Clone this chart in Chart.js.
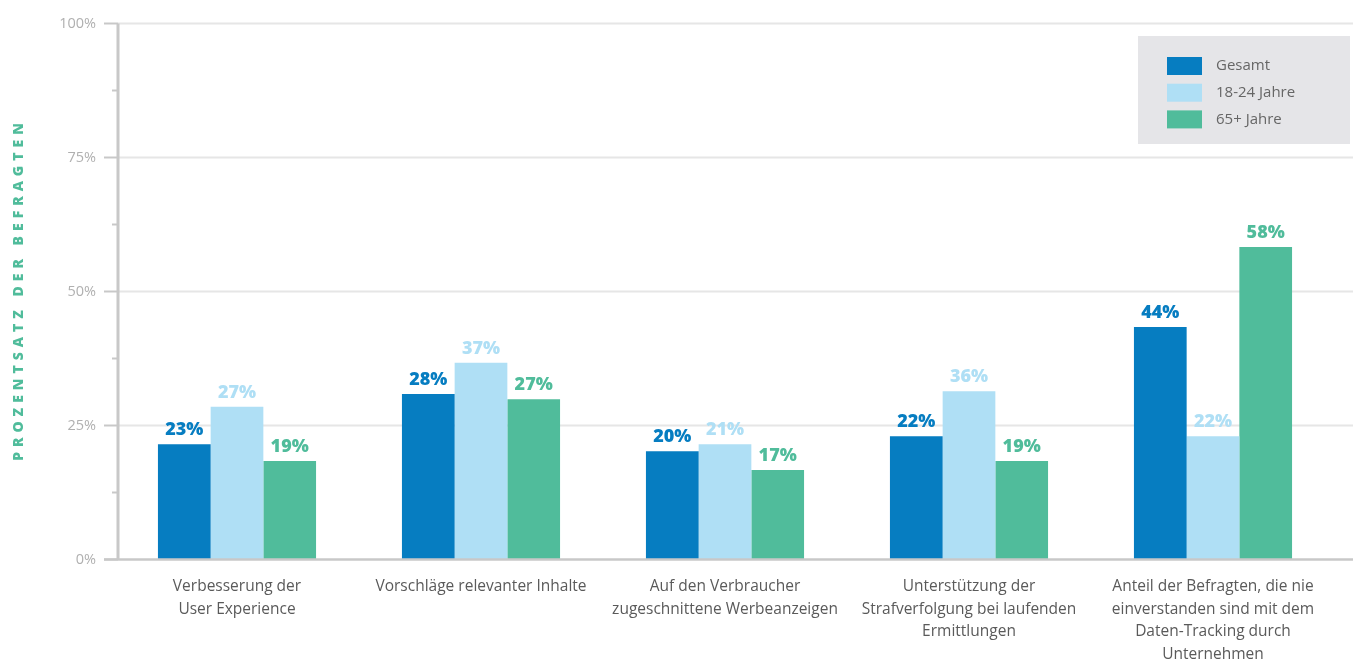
<!DOCTYPE html>
<html>
<head>
<meta charset="utf-8">
<script src="https://cdn.jsdelivr.net/npm/chart.js@4"></script>
<style>
  html, body { margin: 0; padding: 0; background: #fff; }
  #wrap { width: 1353px; height: 660px; position: relative; }
</style>
</head>
<body>
<div id="wrap"><canvas id="myChart"></canvas></div>
<script>
// categories (x axis labels, multi-line)
const kategorien = [
  ["Verbesserung der", "User Experience"],
  "Vorschläge relevanter Inhalte",
  ["Auf den Verbraucher", "zugeschnittene Werbeanzeigen"],
  ["Unterstützung der", "Strafverfolgung bei laufenden", "Ermittlungen"],
  ["Anteil der Befragten, die nie", "einverstanden sind mit dem", "Daten-Tracking durch", "Unternehmen"]
];
const serien = ["Gesamt", "18-24 Jahre", "65+ Jahre"];

// bar heights as drawn in the picture (percent)
const gesamt = [21.5, 30.9, 20.2, 23.0, 43.4];
const jahre18bis24 = [28.5, 36.7, 21.5, 31.4, 23.0];
const jahre65plus = [18.4, 29.9, 16.7, 18.4, 58.3];

// value labels printed above the bars
const labelsGesamt = ["23%", "28%", "20%", "22%", "44%"];
const labels18bis24 = ["27%", "37%", "21%", "36%", "22%"];
const labels65plus = ["19%", "27%", "17%", "19%", "58%"];

const yMajor = [0, 25, 50, 75, 100];
const yMinor = [12.5, 37.5, 62.5, 87.5];

const farben = ["#067dc1", "#afdff5", "#50bc9b"];
const achsenFarbe = "#c8c8c8";
const gridFarbe = "#e6e6e6";
const schrift = "'Open Sans', sans-serif";

const wertLabels = [labelsGesamt, labels18bis24, labels65plus];

// grid, ticks and axis lines
const achsenPlugin = {
  id: "achsen",
  beforeDatasetsDraw(chart) {
    const ctx = chart.ctx;
    const y = chart.scales.y;
    const axisX = chart.chartArea.left + 3;
    ctx.save();
    ctx.lineWidth = 2;
    ctx.strokeStyle = gridFarbe;
    yMajor.forEach(v => {
      if (v === 0) return;
      const py = y.getPixelForValue(v);
      ctx.beginPath();
      ctx.moveTo(axisX, py);
      ctx.lineTo(chart.width, py);
      ctx.stroke();
    });
    ctx.strokeStyle = achsenFarbe;
    yMajor.forEach(v => {
      const py = y.getPixelForValue(v);
      ctx.beginPath();
      ctx.moveTo(axisX - 14, py);
      ctx.lineTo(axisX, py);
      ctx.stroke();
    });
    yMinor.forEach(v => {
      const py = y.getPixelForValue(v);
      ctx.beginPath();
      ctx.moveTo(axisX - 6, py);
      ctx.lineTo(axisX, py);
      ctx.stroke();
    });
    ctx.lineWidth = 3;
    ctx.beginPath();
    ctx.moveTo(axisX, y.getPixelForValue(100));
    ctx.lineTo(axisX, y.getPixelForValue(0));
    ctx.stroke();
    ctx.restore();
  },
  afterDatasetsDraw(chart) {
    const ctx = chart.ctx;
    const y = chart.scales.y;
    const axisX = chart.chartArea.left + 3;
    const py = y.getPixelForValue(0);
    ctx.save();
    ctx.strokeStyle = achsenFarbe;
    ctx.lineWidth = 2.5;
    ctx.beginPath();
    ctx.moveTo(axisX - 14, py);
    ctx.lineTo(chart.width, py);
    ctx.stroke();

    // value labels
    ctx.font = "800 18px " + schrift;
    ctx.textAlign = "center";
    ctx.textBaseline = "bottom";
    chart.data.datasets.forEach((ds, i) => {
      const meta = chart.getDatasetMeta(i);
      ctx.fillStyle = ds.backgroundColor;
      meta.data.forEach((bar, j) => {
        ctx.fillText(wertLabels[i][j], bar.x, bar.y - 5);
      });
    });

    // y axis title
    ctx.font = "800 14px " + schrift;
    ctx.fillStyle = farben[2];
    ctx.letterSpacing = "5px";
    ctx.textBaseline = "middle";
    ctx.translate(19, (chart.chartArea.top + chart.chartArea.bottom) / 2);
    ctx.rotate(-Math.PI / 2);
    ctx.fillText("PROZENTSATZ DER BEFRAGTEN", 2, 0);
    ctx.restore();
  }
};

// legend box on the top right
const legendePlugin = {
  id: "legende",
  afterDraw(chart) {
    const ctx = chart.ctx;
    ctx.save();
    ctx.fillStyle = "#e5e5e8";
    ctx.fillRect(1138, 36, 212, 108);
    ctx.font = "15px " + schrift;
    ctx.textBaseline = "middle";
    ctx.textAlign = "left";
    chart.data.datasets.forEach((ds, i) => {
      const yy = 57 + i * 26.7;
      ctx.fillStyle = ds.backgroundColor;
      ctx.fillRect(1167, yy, 35, 18);
      ctx.fillStyle = "#666";
      ctx.fillText(ds.label, 1216, yy + 9);
    });
    ctx.restore();
  }
};

const config = {
  type: "bar",
  data: {
    labels: kategorien,
    datasets: [
      { label: serien[0], data: gesamt, backgroundColor: farben[0] },
      { label: serien[1], data: jahre18bis24, backgroundColor: farben[1] },
      { label: serien[2], data: jahre65plus, backgroundColor: farben[2] }
    ]
  },
  options: {
    responsive: true,
    maintainAspectRatio: false,
    animation: false,
    layout: { padding: { top: 23.5, right: 18, bottom: 0, left: 0 } },
    datasets: {
      bar: { categoryPercentage: 0.648, barPercentage: 1.0 }
    },
    plugins: {
      legend: { display: false },
      tooltip: { enabled: false }
    },
    scales: {
      x: {
        grid: { display: false, drawTicks: false },
        border: { display: false },
        ticks: {
          color: "#5a5a5a",
          font: { family: schrift, size: 15.5, lineHeight: 1.45 },
          padding: 16,
          maxRotation: 0,
          autoSkip: false
        },
        afterFit(scale) { scale.height = 100.5; }
      },
      y: {
        min: 0,
        max: 100,
        grid: { display: false, drawTicks: false },
        border: { display: false },
        ticks: {
          stepSize: 25,
          color: "#b0b0b0",
          font: { family: schrift, size: 14.5 },
          padding: 19,
          callback: v => v + "%"
        },
        afterFit(scale) { scale.width = 115; scale.paddingTop = 0; scale.paddingBottom = 0; }
      }
    }
  },
  plugins: [achsenPlugin, legendePlugin]
};

new Chart(document.getElementById("myChart"), config);
</script>
</body>
</html>
